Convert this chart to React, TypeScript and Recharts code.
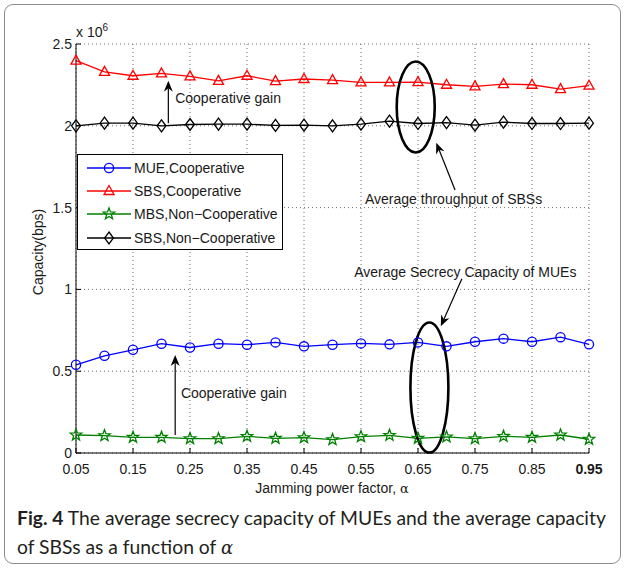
import React from "react";
import { CartesianGrid, Legend, Line, LineChart, ReferenceDot, ReferenceLine, XAxis, YAxis } from "recharts";

// jamming power factor
const alphas = [0.05, 0.1, 0.15, 0.2, 0.25, 0.3, 0.35, 0.4, 0.45, 0.5, 0.55, 0.6, 0.65, 0.7, 0.75, 0.8, 0.85, 0.9, 0.95];

// capacities, in units of 10^6 bps
const mueCoop = [0.539, 0.594, 0.631, 0.668, 0.645, 0.668, 0.662, 0.676, 0.652, 0.662, 0.67, 0.664, 0.676, 0.652, 0.68, 0.699, 0.68, 0.708, 0.664];
const sbsCoop = [2.398, 2.33, 2.306, 2.32, 2.302, 2.275, 2.306, 2.273, 2.286, 2.279, 2.265, 2.265, 2.267, 2.251, 2.241, 2.255, 2.251, 2.224, 2.245];
const mbsNonCoop = [0.11, 0.106, 0.096, 0.096, 0.088, 0.088, 0.102, 0.09, 0.094, 0.082, 0.1, 0.108, 0.09, 0.098, 0.088, 0.102, 0.096, 0.11, 0.084];
const sbsNonCoop = [2.0, 2.016, 2.016, 2.0, 2.008, 2.01, 2.01, 2.002, 2.004, 2.0, 2.01, 2.028, 2.014, 2.02, 2.004, 2.022, 2.014, 2.014, 2.016];

const xTicks = [0.05, 0.15, 0.25, 0.35, 0.45, 0.55, 0.65, 0.75, 0.85, 0.95];
const yTicks = [0, 0.5, 1, 1.5, 2, 2.5];

const data = alphas.map((a, i) => ({
  alpha: a,
  mue: mueCoop[i],
  sbs: sbsCoop[i],
  mbsNc: mbsNonCoop[i],
  sbsNc: sbsNonCoop[i],
}));

const FONT = '"Liberation Sans", Arial, Helvetica, sans-serif';
const INK = "#1a1a1a";

type P = { cx?: number; cy?: number; color: string };

function Circle({ cx = 0, cy = 0, color }: P) {
  return <circle cx={cx} cy={cy} r={4.6} fill="none" stroke={color} strokeWidth={1.3} />;
}

function Triangle({ cx = 0, cy = 0, color }: P) {
  const pts = `${cx},${cy - 5.5} ${cx + 5},${cy + 3.5} ${cx - 5},${cy + 3.5}`;
  return <polygon points={pts} fill="none" stroke={color} strokeWidth={1.3} />;
}

function Diamond({ cx = 0, cy = 0, color }: P) {
  const pts = `${cx},${cy - 6} ${cx + 4.4},${cy} ${cx},${cy + 6} ${cx - 4.4},${cy}`;
  return <polygon points={pts} fill="none" stroke={color} strokeWidth={1.3} />;
}

function Star({ cx = 0, cy = 0, color }: P) {
  const pts: string[] = [];
  for (let k = 0; k < 10; k++) {
    const r = k % 2 === 0 ? 6 : 2.5;
    const a = -Math.PI / 2 + (k * Math.PI) / 5;
    pts.push(`${cx + r * Math.cos(a)},${cy + r * Math.sin(a)}`);
  }
  return <polygon points={pts.join(" ")} fill="none" stroke={color} strokeWidth={1.3} />;
}

const series = [
  { key: "mue", name: "MUE,Cooperative", color: "#0000ff", Marker: Circle },
  { key: "sbs", name: "SBS,Cooperative", color: "#ff0000", Marker: Triangle },
  { key: "mbsNc", name: "MBS,Non\u2212Cooperative", color: "#008000", Marker: Star },
  { key: "sbsNc", name: "SBS,Non\u2212Cooperative", color: "#000000", Marker: Diamond },
];

// annotation placements, in data coordinates
const ellipses = [
  { x: 0.646, y: 2.115, rx: 19, ry: 45.5 },
  { x: 0.67, y: 0.4, rx: 19, ry: 65 },
];
const arrows = [
  { from: { x: 0.212, y: 2.015 }, to: { x: 0.212, y: 2.276 } },
  { from: { x: 0.224, y: 0.11 }, to: { x: 0.224, y: 0.599 } },
  { from: { x: 0.715, y: 1.608 }, to: { x: 0.682, y: 1.897 } },
  { from: { x: 0.727, y: 1.065 }, to: { x: 0.69, y: 0.774 } },
];
const notes = [
  { x: 0.224, y: 2.168, text: "Cooperative gain", anchor: "start" },
  { x: 0.234, y: 0.369, text: "Cooperative gain", anchor: "start" },
  { x: 0.557, y: 1.553, text: "Average throughput of SBSs", anchor: "start" },
  { x: 0.928, y: 1.107, text: "Average Secrecy Capacity of MUEs", anchor: "end" },
];

function ArrowShape(props: any) {
  const { x1, y1, x2, y2 } = props;
  const dx = x2 - x1;
  const dy = y2 - y1;
  const len = Math.hypot(dx, dy) || 1;
  const ux = dx / len;
  const uy = dy / len;
  const L = 11;
  const W = 4.5;
  const bx = x2 - ux * L;
  const by = y2 - uy * L;
  const nx = x2 - ux * L * 0.7;
  const ny = y2 - uy * L * 0.7;
  const head = `${x2},${y2} ${bx - uy * W},${by + ux * W} ${nx},${ny} ${bx + uy * W},${by - ux * W}`;
  return (
    <g>
      <line x1={x1} y1={y1} x2={nx} y2={ny} stroke="#000" strokeWidth={1.2} />
      <polygon points={head} fill="#000" stroke="none" />
    </g>
  );
}

function XTick(props: any) {
  const { x, y, payload } = props;
  const v = payload.value as number;
  return (
    <text x={x} y={y} dy="0.71em" textAnchor="middle" fontSize={14} fontFamily={FONT} fill={INK}
      fontWeight={v === 0.95 ? "bold" : "normal"}>
      {v.toFixed(2)}
    </text>
  );
}

function YTick(props: any) {
  const { x, y, payload } = props;
  return (
    <text x={x} y={y} dy="0.36em" textAnchor="end" fontSize={14} fontFamily={FONT} fill={INK}>
      {String(payload.value)}
    </text>
  );
}

function LegendBox() {
  return (
    <div style={{ width: 204, height: 93, border: "1px solid #000", background: "#fff", fontFamily: FONT, fontSize: 14, color: INK, paddingTop: 1 }}>
      {series.map((s) => (
        <div key={s.key} style={{ display: "flex", alignItems: "center", height: 23.3 }}>
          <svg width={56} height={16} style={{ flex: "none" }}>
            <line x1={9} y1={8} x2={53} y2={8} stroke={s.color} strokeWidth={1.3} />
            <s.Marker cx={31} cy={8} color={s.color} />
          </svg>
          <span style={{ whiteSpace: "nowrap" }}>{s.name}</span>
        </div>
      ))}
    </div>
  );
}

export default function App() {
  return (
    <div style={{ position: "absolute", left: 0, top: 0, width: 625, height: 568, background: "#fff" }}>
      <div style={{ position: "absolute", left: 4, top: 4, width: 615, height: 558, border: "1px solid #8c8c8c", borderRadius: 9 }} />
      <LineChart width={625} height={500} data={data} margin={{ top: 44, right: 36, left: 16, bottom: 0 }}>
        <CartesianGrid stroke="#6e6e6e" strokeDasharray="1 3" />
        <XAxis dataKey="alpha" type="number" domain={[0.05, 0.95]} ticks={xTicks} height={47}
          stroke="#000" tickSize={-5} tickMargin={16} tick={<XTick />} />
        <XAxis xAxisId="top" orientation="top" type="number" domain={[0.05, 0.95]} ticks={xTicks}
          height={0} stroke="#000" tickSize={-5} tick={false} />
        <YAxis type="number" domain={[0, 2.5]} ticks={yTicks} width={60} stroke="#000"
          tickSize={-5} tickMargin={9} tick={<YTick />} />
        <YAxis yAxisId="right" orientation="right" type="number" domain={[0, 2.5]} ticks={yTicks}
          width={0} stroke="#000" tickSize={-5} tick={false} />
        {series.map((s) => (
          <Line key={s.key} type="linear" dataKey={s.key} name={s.name} stroke={s.color} strokeWidth={1.3}
            isAnimationActive={false} activeDot={false}
            dot={(p: any) => <s.Marker key={`${s.key}-${p.index}`} cx={p.cx} cy={p.cy} color={s.color} />} />
        ))}
        {ellipses.map((e, i) => (
          <ReferenceDot key={`el-${i}`} x={e.x} y={e.y} ifOverflow="visible"
            shape={(p: any) => <ellipse cx={p.cx} cy={p.cy} rx={e.rx} ry={e.ry} fill="none" stroke="#000" strokeWidth={2.6} />} />
        ))}
        {arrows.map((a, i) => (
          <ReferenceLine key={`ar-${i}`} segment={[a.from, a.to]} ifOverflow="visible" shape={ArrowShape} />
        ))}
        {notes.map((n, i) => (
          <ReferenceDot key={`nt-${i}`} x={n.x} y={n.y} ifOverflow="visible"
            shape={(p: any) => (
              <text x={p.cx} y={p.cy} dy="0.36em" textAnchor={n.anchor} fontSize={14} fontFamily={FONT} fill={INK}>
                {n.text}
              </text>
            )} />
        ))}
        <Legend layout="horizontal" verticalAlign="middle" align="center" content={<LegendBox />}
          wrapperStyle={{ left: 77, top: 154, width: "auto" }} />
      </LineChart>
      <div style={{ position: "absolute", left: 76, top: 22, fontFamily: FONT, fontSize: 14, color: INK, whiteSpace: "nowrap" }}>
        x 10<sup style={{ fontSize: 10, verticalAlign: "6px" }}>6</sup>
      </div>
      <div style={{ position: "absolute", left: 38, top: 252, transform: "translate(-50%, -50%) rotate(-90deg)", fontFamily: FONT, fontSize: 14, color: INK, whiteSpace: "nowrap" }}>
        Capacity(bps)
      </div>
      <div style={{ position: "absolute", left: 332, top: 488, transform: "translate(-50%, -50%)", fontFamily: FONT, fontSize: 14, color: INK, whiteSpace: "nowrap" }}>
        Jamming power factor, <span style={{ fontFamily: '"DejaVu Serif", serif', fontSize: 13 }}>α</span>
      </div>
      <div style={{ position: "absolute", left: 17, top: 503, width: 604, fontFamily: "Lato, sans-serif", fontSize: 19.3, lineHeight: "29px", color: "#231f20" }}>
        <b>Fig. 4</b> The average secrecy capacity of MUEs and the average capacity<br />
        of SBSs as a function of <i style={{ fontFamily: '"DejaVu Serif", serif', fontSize: 18 }}>α</i>
      </div>
    </div>
  );
}
